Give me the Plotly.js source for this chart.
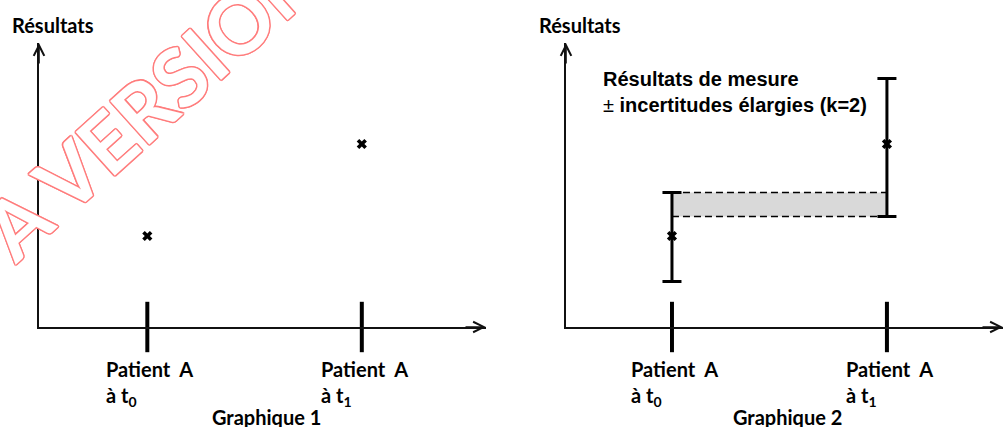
<!DOCTYPE html>
<html>
<head>
<meta charset="utf-8">
<script src="https://cdn.plot.ly/plotly-3.0.1.min.js"></script>
<style>html,body{margin:0;padding:0;background:#fff;}#chart{width:1003px;height:427px;}</style>
</head>
<body>
<div id="chart"></div>
<script>
// ---- data ----
var timePoints = [0, 1];                 // t0, t1
var tickLine1 = ['Patient\u00a0 A', 'Patient\u00a0 A'];
var tickLine2 = ['à t<sub>0</sub>', 'à t<sub>1</sub>'];
var results = [9.1, 18.3];               // measured results (patient A)
var uncPlus = [4.35, 6.55];              // expanded uncertainty (k=2), upper part
var uncMinus = [4.55, 7.25];             // expanded uncertainty (k=2), lower part
var yAxisTitle = 'Résultats';
var panelTitles = ['Graphique 1', 'Graphique 2'];
var legendText = '<b>Résultats de mesure</b><br>± <b>incertitudes élargies (k=2)</b>';
var watermark = 'A VERSION';

// overlap band between the two uncertainty intervals
var bandLow = results[1] - uncMinus[1];
var bandHigh = results[0] + uncPlus[0];

var X1 = [-0.505, 1.579];
var X2 = [-0.493, 1.54];
var Y = [0, 28.4];

var black = '#000';
var traces = [
  // panel 1 ticks
  {x: timePoints, y: [0, 0], xaxis: 'x', yaxis: 'y', mode: 'markers', cliponaxis: false,
   marker: {symbol: 'line-ns', size: 36, line: {width: 4, color: black}}, hoverinfo: 'skip'},
  // panel 1 points
  {x: timePoints, y: results, xaxis: 'x', yaxis: 'y', mode: 'markers', cliponaxis: false,
   marker: {symbol: 'x', size: 9, color: black}},
  // panel 2 band
  {x: timePoints, y: [bandLow, bandLow], xaxis: 'x2', yaxis: 'y2', mode: 'lines',
   line: {color: black, width: 1.5, dash: '7px,4px'}},
  {x: timePoints, y: [bandHigh, bandHigh], xaxis: 'x2', yaxis: 'y2', mode: 'lines', fill: 'tonexty',
   fillcolor: '#d9d9d9', line: {color: black, width: 1.5, dash: '7px,4px'}},
  // panel 2 ticks
  {x: timePoints, y: [0, 0], xaxis: 'x2', yaxis: 'y2', mode: 'markers', cliponaxis: false,
   marker: {symbol: 'line-ns', size: 36, line: {width: 4, color: black}}, hoverinfo: 'skip'},
  // panel 2 points with error bars
  {x: timePoints, y: results, xaxis: 'x2', yaxis: 'y2', mode: 'markers', cliponaxis: false,
   marker: {symbol: 'x', size: 9, color: black},
   error_y: {type: 'data', symmetric: false, array: uncPlus, arrayminus: uncMinus,
             thickness: 3, width: 9.5, color: black}}
];

function ax(domain, range, anchor) {
  return {domain: domain, range: range, anchor: anchor, showgrid: false, zeroline: false,
          showticklabels: false, ticks: '', showline: true, linecolor: '#111', linewidth: 1.6,
          fixedrange: true};
}

var lblFont = {family: 'Lato, "DejaVu Sans", sans-serif', size: 20, color: '#000', weight: 'bold'};
var red = 'rgb(255,125,125)';
var sh = [[1.5,0],[-1.5,0],[0,1.5],[0,-1.5],[1.1,1.1],[-1.1,-1.1],[1.1,-1.1],[-1.1,1.1]]
  .map(function(d){return red + ' ' + d[0] + 'px ' + d[1] + 'px 0px';}).join(', ');

var ann = [];
ann.push({xref: 'paper', yref: 'paper', x: 0.1505, y: 0.7646, xanchor: 'center', yanchor: 'middle',
  text: watermark, showarrow: false, textangle: -42,
  font: {family: 'Lato, sans-serif', size: 81, weight: 'bold', color: '#fff', shadow: sh}});

var axes = [['x', 'y', X1], ['x2', 'y2', X2]];
axes.forEach(function(a, p) {
  // arrow heads
  ann.push({xref: a[0], yref: a[1], x: a[2][0], y: Y[1], ax: 0, ay: 22, text: '', showarrow: true,
            arrowhead: 5, arrowsize: 1.3, arrowwidth: 1.6, arrowcolor: '#111'});
  ann.push({xref: a[0], yref: a[1], x: a[2][1], y: 0, ax: -22, ay: 0, text: '', showarrow: true,
            arrowhead: 5, arrowsize: 1.3, arrowwidth: 1.6, arrowcolor: '#111'});
  // y title
  ann.push({xref: a[0] + ' domain', yref: 'paper', x: 0, y: 0.9407, xshift: 14, xanchor: 'center',
            yanchor: 'middle', text: yAxisTitle, showarrow: false, font: lblFont});
  // tick labels
  timePoints.forEach(function(t, i) {
    ann.push({xref: a[0], yref: a[1], x: t, y: 0, xanchor: 'left', yanchor: 'top', align: 'left',
              xshift: -43, yshift: -28, text: tickLine1[i] + '<br>' + tickLine2[i],
              showarrow: false, font: lblFont});
  });
});
ann.push({xref: 'paper', yref: 'paper', x: 0.2662, y: 0.0227, xanchor: 'center', yanchor: 'middle',
          text: panelTitles[0], showarrow: false, font: lblFont});
ann.push({xref: 'paper', yref: 'paper', x: 0.7856, y: 0.0227, xanchor: 'center', yanchor: 'middle',
          text: panelTitles[1], showarrow: false, font: lblFont});
ann.push({xref: 'paper', yref: 'paper', x: 0.5992, y: 0.8466, xanchor: 'left', yanchor: 'top', align: 'left',
          text: legendText, showarrow: false,
          font: {family: 'Arial, "Liberation Sans", sans-serif', size: 20, color: '#000'}});

var layout = {
  width: 1003, height: 427, margin: {l: 0, r: 0, t: 0, b: 0},
  paper_bgcolor: '#fff', plot_bgcolor: 'rgba(0,0,0,0)', showlegend: false,
  xaxis: ax([39/1003, 486/1003], X1, 'y'),
  yaxis: ax([100/427, 384/427], Y, 'x'),
  xaxis2: ax([566/1003, 1], X2, 'y2'),
  yaxis2: ax([100/427, 384/427], Y, 'x2'),
  annotations: ann
};

Plotly.newPlot('chart', traces, layout, {staticPlot: true, displayModeBar: false});
</script>
</body>
</html>
